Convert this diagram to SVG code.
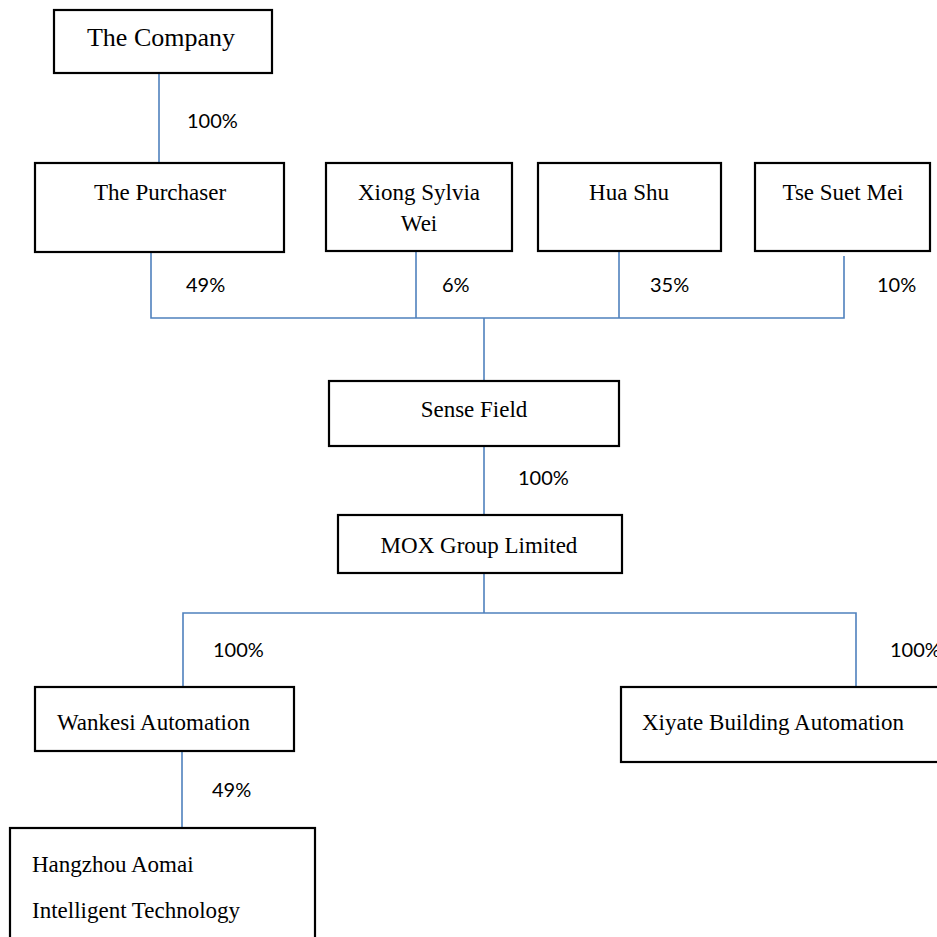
<svg xmlns="http://www.w3.org/2000/svg" width="937" height="937" viewBox="0 0 937 937">
<style>
.box{fill:#fff;stroke:#000;stroke-width:2.2}
.t{font-family:"Liberation Serif","Times New Roman",serif;font-size:23px;fill:#000}
.c{text-anchor:middle}
.p{font-family:Lato,"Open Sans",sans-serif;font-size:20px;fill:#000}
.ln{stroke:#4f81bd;stroke-width:1.6;fill:none}
</style>
<rect width="937" height="937" fill="#fff"/>
<g id="connectors">
<path class="ln" d="M159 73V163"/>
<path class="ln" d="M151 252V318H844V256"/>
<path class="ln" d="M416 251V318"/>
<path class="ln" d="M619 251V318"/>
<path class="ln" d="M484 318V381"/>
<path class="ln" d="M484 446V515"/>
<path class="ln" d="M484 573V613"/>
<path class="ln" d="M183 687V613H856V687"/>
<path class="ln" d="M182 751V828"/>
<text class="p" x="187" y="128">100%</text>
<text class="p" x="186" y="292">49%</text>
<text class="p" x="442" y="292">6%</text>
<text class="p" x="650" y="292">35%</text>
<text class="p" x="877" y="292">10%</text>
<text class="p" x="518" y="485">100%</text>
<text class="p" x="213" y="657">100%</text>
<text class="p" x="890" y="657">100%</text>
<text class="p" x="212" y="797">49%</text>
</g>
<g id="company"><rect class="box" x="54" y="10" width="218" height="63"/><text class="t c" x="161" y="46" style="font-size:26px">The Company</text></g>
<g id="purchaser"><rect class="box" x="35" y="163" width="249" height="89"/><text class="t c" x="160" y="200">The Purchaser</text></g>
<g id="xiong"><rect class="box" x="326" y="163" width="186" height="88"/><text class="t c" x="419" y="200">Xiong Sylvia</text><text class="t c" x="419" y="231">Wei</text></g>
<g id="huashu"><rect class="box" x="538" y="163" width="183" height="88"/><text class="t c" x="629" y="200">Hua Shu</text></g>
<g id="tse"><rect class="box" x="755" y="163" width="175" height="88"/><text class="t c" x="843" y="200">Tse Suet Mei</text></g>
<g id="sensefield"><rect class="box" x="329" y="381" width="290" height="65"/><text class="t c" x="474" y="417">Sense Field</text></g>
<g id="mox"><rect class="box" x="338" y="515" width="284" height="58"/><text class="t c" x="479" y="553">MOX Group Limited</text></g>
<g id="wankesi"><rect class="box" x="35" y="687" width="259" height="64"/><text class="t" x="57" y="730">Wankesi Automation</text></g>
<g id="xiyate"><rect class="box" x="621" y="687" width="340" height="75"/><text class="t" x="642" y="730">Xiyate Building Automation</text></g>
<g id="hangzhou"><rect class="box" x="10" y="828" width="305" height="130"/><text class="t" x="32" y="872">Hangzhou Aomai</text><text class="t" x="32" y="918">Intelligent Technology</text></g>
</svg>
